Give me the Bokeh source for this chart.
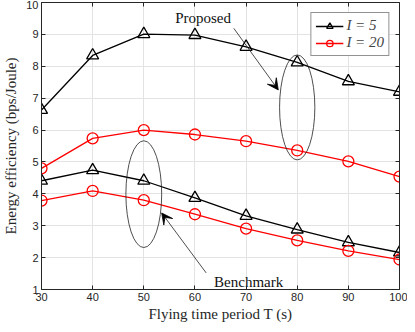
from bokeh.plotting import figure
from bokeh.models import (Range1d, LinearAxis, FixedTicker, Legend, LegendItem,
                          Arrow, VeeHead, ColumnDataSource)
from bokeh.core.properties import value
from bokeh.embed import file_html
from bokeh.resources import INLINE

# ---- data ----
T = [30, 40, 50, 60, 70, 80, 90, 100]
proposed_I5 = [6.63, 8.34, 9.01, 8.98, 8.61, 8.12, 7.53, 7.20]
proposed_I20 = [4.80, 5.74, 6.00, 5.86, 5.65, 5.36, 5.02, 4.54]
bench_I5 = [4.41, 4.74, 4.41, 3.87, 3.31, 2.88, 2.48, 2.16]
bench_I20 = [3.79, 4.09, 3.80, 3.36, 2.91, 2.54, 2.21, 1.94]
x_ticks = [30, 40, 50, 60, 70, 80, 90, 100]
y_ticks = [1, 2, 3, 4, 5, 6, 7, 8, 9, 10]
legend_labels = ["I = 5", "I = 20"]

# annotation positions (data units)
ell_prop = dict(x=80, y=6.71, w=6.9, h=3.29)
ell_bench = dict(x=50, y=3.99, w=7.0, h=3.35)
arrow_prop = dict(x_start=67.6, y_start=9.19, x_end=76.3, y_end=7.26)
arrow_bench = dict(x_start=62.2, y_start=1.52, x_end=53.5, y_end=3.40)
txt_prop = dict(x=61.6, y=9.5, text="Proposed")
txt_bench = dict(x=70.5, y=1.23, text="Benchmark")

AX = "#262626"
SERIF = "Liberation Serif"
SANS = "Liberation Sans"

p = figure(width=407, height=324, output_backend="svg", toolbar_location=None,
           x_range=Range1d(30, 100), y_range=Range1d(1, 10),
           min_border_left=31, min_border_right=8, min_border_top=2, min_border_bottom=4)
p.outline_line_color = None
p.background_fill_color = "white"

for ax in (p.xaxis[0], p.yaxis[0]):
    ax.major_tick_in = 4
    ax.major_tick_out = 0
    ax.minor_tick_line_color = None
    ax.axis_line_color = AX
    ax.major_tick_line_color = AX
    ax.major_label_text_font = SANS
    ax.major_label_text_font_size = "11px"
    ax.major_label_text_color = AX
    ax.axis_label_text_font = SERIF
    ax.axis_label_text_font_size = "15px"
    ax.axis_label_text_font_style = "normal"
    ax.axis_label_text_color = AX
p.xaxis[0].ticker = FixedTicker(ticks=x_ticks)
p.yaxis[0].ticker = FixedTicker(ticks=y_ticks)
p.xaxis[0].axis_label = "Flying time period T (s)"
p.yaxis[0].axis_label = "Energy efficiency (bps/Joule)"
p.xaxis[0].major_label_standoff = 3
p.xaxis[0].axis_label_standoff = 2
p.yaxis[0].major_label_standoff = 3
p.yaxis[0].axis_label_standoff = 4

for loc, tk in (("above", x_ticks), ("right", y_ticks)):
    a = LinearAxis(ticker=FixedTicker(ticks=tk), major_tick_in=4, major_tick_out=0,
                   minor_tick_line_color=None, axis_line_color=AX,
                   major_tick_line_color=AX, major_label_text_color=None,
                   major_label_text_font_size="1px", major_label_standoff=0)
    p.add_layout(a, loc)

p.xgrid.ticker = FixedTicker(ticks=x_ticks)
p.ygrid.ticker = FixedTicker(ticks=y_ticks)
p.grid.grid_line_color = "#e3e3e3"
p.grid.grid_line_width = 1

# series
src = ColumnDataSource(dict(T=T, p5=proposed_I5, p20=proposed_I20, b5=bench_I5, b20=bench_I20))
items = {0: [], 1: []}
for col, color, marker, idx in (("p5", "black", "triangle", 0), ("b5", "black", "triangle", 0),
                                ("p20", "#ff0000", "circle", 1), ("b20", "#ff0000", "circle", 1)):
    r1 = p.line("T", col, source=src, line_color=color, line_width=1.3)
    r2 = p.scatter("T", col, source=src, marker=marker, size=12 if marker == "triangle" else 11,
                   line_color=color, line_width=1.3, fill_alpha=0)
    items[idx] += [r1, r2]

# ellipses
for e in (ell_prop, ell_bench):
    p.ellipse(x=e["x"], y=e["y"], width=e["w"], height=e["h"], fill_alpha=0,
              line_color="#222222", line_width=0.8)

# arrows
for a in (arrow_prop, arrow_bench):
    p.add_layout(Arrow(end=VeeHead(size=11, fill_color="black", line_color="black", line_width=0.8),
                       line_color="#222222", line_width=0.8, **a))

# texts
for t in (txt_prop, txt_bench):
    p.text(x=[t["x"]], y=[t["y"]], text=[t["text"]], text_font=value(SERIF),
           text_font_size="15px", text_align="center", text_baseline="middle",
           text_color="#111111")

legend = Legend(items=[LegendItem(label=legend_labels[0], renderers=items[0][:2]),
                       LegendItem(label=legend_labels[1], renderers=items[1][:2])],
                location="top_right", margin=10, padding=4, spacing=0,
                glyph_width=28, glyph_height=16, label_standoff=3,
                label_text_font=SERIF, label_text_font_size="15px",
                label_text_font_style="italic",
                border_line_color=AX, border_line_width=1,
                background_fill_alpha=1)
p.add_layout(legend)

open("out.html", "w").write(file_html(p, INLINE))
